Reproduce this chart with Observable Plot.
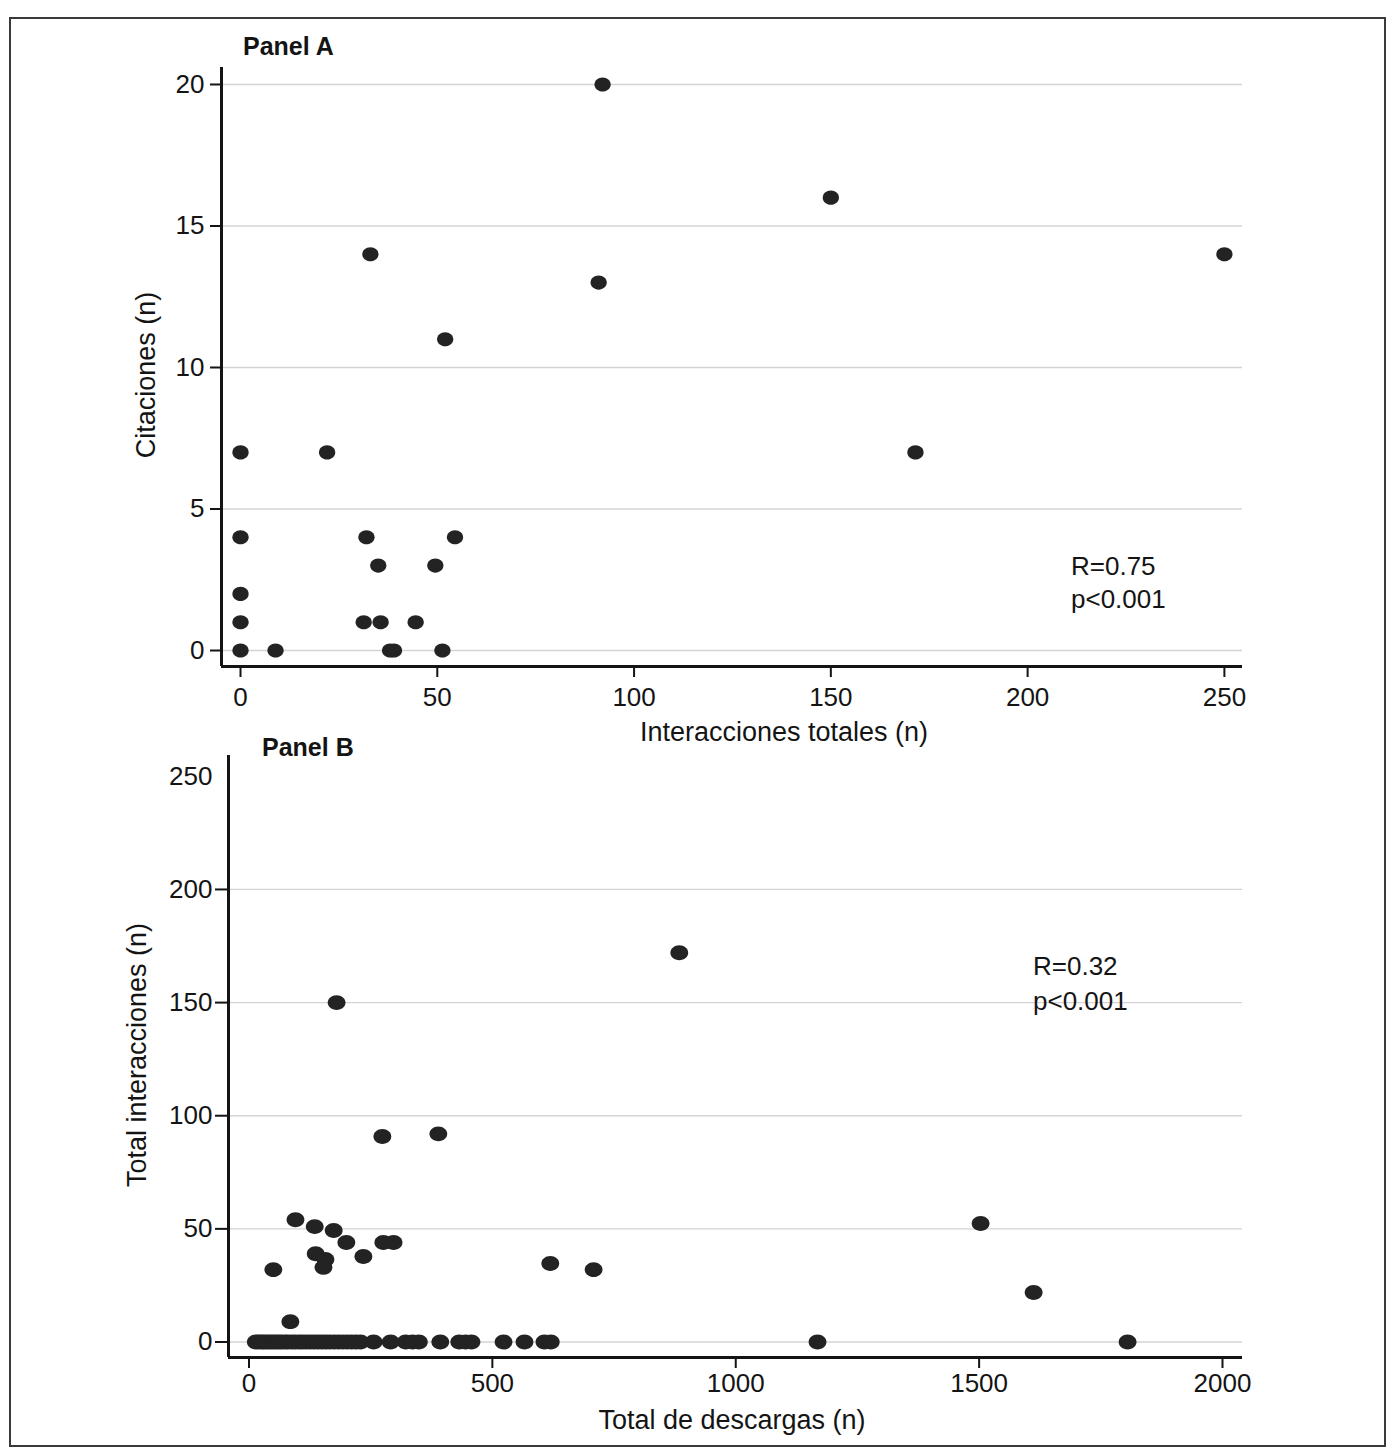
<!DOCTYPE html>
<html>
<head>
<meta charset="utf-8">
<script src="https://cdn.jsdelivr.net/npm/d3@7"></script>
<script src="https://cdn.jsdelivr.net/npm/@observablehq/plot@0.6"></script>
<style>
  body { margin: 0; background: #fff; }
  #page { position: relative; width: 1400px; height: 1456px; overflow: hidden;
          font-family: "Liberation Sans", Arial, sans-serif; color: #141414; background: #fff; }
  .panel { position: absolute; left: 0; }
  #frame { position: absolute; left: 9px; top: 17px; width: 1377px; height: 1430px;
           border: 2px solid #3a3a3a; box-sizing: border-box; pointer-events: none; z-index: 5; }
  .t { position: absolute; white-space: nowrap; line-height: 1; z-index: 6; }
</style>
</head>
<body>
<div id="page">
  <div id="panelA" class="panel" style="top:0px"></div>
  <div id="panelB" class="panel" style="top:730px"></div>
  <div id="frame"></div>
</div>
<script>
// ---------------- Panel A data: Interacciones totales (x) vs Citaciones (y)
const panelA_interacciones = [92, 150, 250, 33, 91, 52, 0, 22, 171.5, 0, 32, 54.5, 35, 49.5, 0, 0, 31.3, 35.6, 44.5, 0, 8.9, 38, 39, 51.3];
const panelA_citaciones    = [20, 16, 14, 14, 13, 11, 7, 7, 7, 4, 4, 4, 3, 3, 2, 1, 1, 1, 1, 0, 0, 0, 0, 0];
const panelA_xTicks = [0, 50, 100, 150, 200, 250];
const panelA_yTicks = [0, 5, 10, 15, 20];

// ---------------- Panel B data: Total de descargas (x) vs Total interacciones (y)
const panelB_descargas = [
  884, 180, 274, 389, 95.5, 1503, 1612, 135, 174, 200, 235, 276, 297, 137, 157, 153, 50, 85, 619, 708,
  14, 20, 26, 31, 37, 43, 49, 55, 61, 67, 74, 80, 88, 95, 103, 110, 118, 126, 134, 142, 150, 158, 166, 175, 184, 193, 202, 211, 220, 229,
  256, 291, 322, 336, 349, 393, 432, 445, 457, 523, 566, 607, 620, 1168, 1805
];
const panelB_interacciones = [
  172, 150, 90.8, 92, 54, 52.4, 21.9, 51, 49.3, 44, 37.8, 44, 44, 39, 36.5, 33, 32, 9, 34.7, 32,
  0, 0, 0, 0, 0, 0, 0, 0, 0, 0, 0, 0, 0, 0, 0, 0, 0, 0, 0, 0, 0, 0, 0, 0, 0, 0, 0, 0, 0, 0,
  0, 0, 0, 0, 0, 0, 0, 0, 0, 0, 0, 0, 0, 0, 0
];
const panelB_xTicks = [0, 500, 1000, 1500, 2000];
const panelB_yTicks = [0, 50, 100, 150, 200];
const panelB_yTopTick = [250];

const dataA = panelA_interacciones.map((x, i) => ({x, y: panelA_citaciones[i]}));
const dataB = panelB_descargas.map((x, i) => ({x, y: panelB_interacciones[i]}));

const ink = "#141414";
const dotFill = "#232323";
const gridColor = "#d4d4d4";
const fmt = d => String(d);
const baseStyle = {background: "transparent", fontFamily: "'Liberation Sans', Arial, sans-serif", color: ink, overflow: "visible"};

// slightly wide ellipse marker (as in the original scanned figure)
function ellipseSymbol(fx, fy) {
  return {
    draw(context, size) {
      const r = Math.sqrt(size / Math.PI);
      const rx = r * fx, ry = r * fy, k = 0.5523;
      context.moveTo(rx, 0);
      context.bezierCurveTo(rx, ry * k, rx * k, ry, 0, ry);
      context.bezierCurveTo(-rx * k, ry, -rx, ry * k, -rx, 0);
      context.bezierCurveTo(-rx, -ry * k, -rx * k, -ry, 0, -ry);
      context.bezierCurveTo(rx * k, -ry, rx, -ry * k, rx, 0);
      context.closePath();
    }
  };
}

// ---------------- Panel A
const xDomA = [-4.83, 254.6];
const yDomA = [-0.565, 20.6];
const plotA = Plot.plot({
  width: 1400, height: 730,
  marginLeft: 221, marginRight: 158, marginTop: 67, marginBottom: 64,
  style: baseStyle,
  x: {domain: xDomA},
  y: {domain: yDomA},
  marks: [
    Plot.gridY(panelA_yTicks, {stroke: gridColor, strokeOpacity: 1, strokeWidth: 1.3}),
    Plot.axisY(panelA_yTicks, {tickSize: 11, tickPadding: 6, fontSize: 26, label: null, strokeWidth: 2, tickFormat: fmt}),
    Plot.axisX(panelA_xTicks, {tickSize: 11, tickPadding: 10, fontSize: 26, label: null, strokeWidth: 2, tickFormat: fmt}),
    Plot.ruleX([xDomA[0]], {stroke: ink, strokeWidth: 3}),
    Plot.ruleY([yDomA[0]], {stroke: ink, strokeWidth: 3}),
    Plot.dot(dataA, {x: "x", y: "y", r: 7.6, symbol: ellipseSymbol(1.07, 0.93), fill: dotFill, stroke: null})
  ]
});
document.getElementById("panelA").appendChild(plotA);

// ---------------- Panel B
const xDomB = [-42.1, 2041.1];
const yDomB = [-6.85, 259.2];
const plotB = Plot.plot({
  width: 1400, height: 726,
  marginLeft: 228, marginRight: 158, marginTop: 25, marginBottom: 99,
  style: baseStyle,
  x: {domain: xDomB},
  y: {domain: yDomB},
  marks: [
    Plot.gridY(panelB_yTicks, {stroke: gridColor, strokeOpacity: 1, strokeWidth: 1.3}),
    Plot.axisY(panelB_yTicks, {tickSize: 13, tickPadding: 3, fontSize: 26, label: null, strokeWidth: 2, tickFormat: fmt}),
    Plot.axisY(panelB_yTopTick, {tickSize: 0, tickPadding: 16, fontSize: 26, label: null, tickFormat: fmt}),
    Plot.axisX(panelB_xTicks, {tickSize: 11, tickPadding: 5, fontSize: 26, label: null, strokeWidth: 2, tickFormat: fmt}),
    Plot.ruleX([xDomB[0]], {stroke: ink, strokeWidth: 3}),
    Plot.ruleY([yDomB[0]], {stroke: ink, strokeWidth: 3}),
    Plot.dot(dataB, {x: "x", y: "y", r: 8.1, symbol: ellipseSymbol(1.1, 0.92), fill: dotFill, stroke: null})
  ]
});
document.getElementById("panelB").appendChild(plotB);

// ---------------- Texts (titles, axis labels, annotations)
const page = document.getElementById("page");
function addText(str, {x, y, size = 26, weight = "normal", anchor = "start", rotate = false}) {
  const d = document.createElement("div");
  d.className = "t";
  d.textContent = str;
  d.style.fontSize = size + "px";
  d.style.fontWeight = weight;
  if (rotate) {
    d.style.left = x + "px";
    d.style.top = y + "px";
    d.style.transform = "translate(-50%, -50%) rotate(-90deg)";
  } else {
    d.style.left = x + "px";
    d.style.top = (y - 0.8465 * size) + "px";
    if (anchor === "middle") d.style.transform = "translateX(-50%)";
  }
  page.appendChild(d);
}
addText("Panel A", {x: 243, y: 55, size: 25, weight: "bold"});
addText("Citaciones (n)", {x: 146, y: 375, size: 27, rotate: true});
addText("Interacciones totales (n)", {x: 784, y: 742, size: 27, anchor: "middle"});
addText("R=0.75", {x: 1071, y: 575, size: 26});
addText("p<0.001", {x: 1071, y: 608, size: 26});

addText("Panel B", {x: 262, y: 756, size: 25, weight: "bold"});
addText("Total interacciones (n)", {x: 137, y: 1055, size: 27, rotate: true});
addText("Total de descargas (n)", {x: 732, y: 1430, size: 27, anchor: "middle"});
addText("R=0.32", {x: 1033, y: 975, size: 26});
addText("p<0.001", {x: 1033, y: 1010, size: 26});
</script>
</body>
</html>
